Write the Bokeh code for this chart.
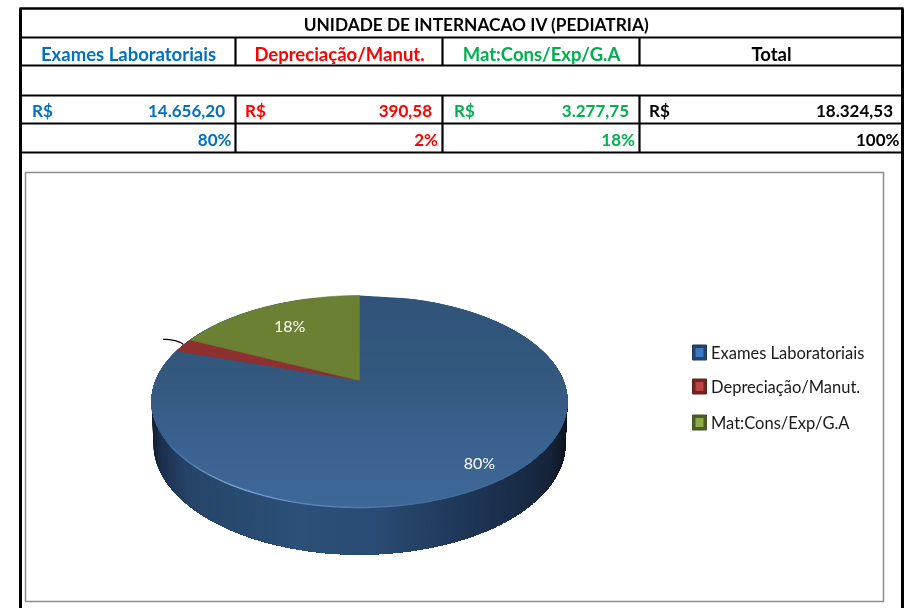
import numpy as np
from bokeh.plotting import figure
from bokeh.models import Range1d
from bokeh.core.properties import value
from bokeh.embed import file_html
from bokeh.resources import INLINE

# ---- data ----
title = "UNIDADE DE INTERNACAO IV (PEDIATRIA)"
categories = ["Exames Laboratoriais", "Depreciação/Manut.", "Mat:Cons/Exp/G.A"]
header_labels = ["Exames Laboratoriais", "Depreciação/Manut.", "Mat:Cons/Exp/G.A", "Total"]
amounts = [14656.20, 390.58, 3277.75]
amount_labels = ["14.656,20", "390,58", "3.277,75", "18.324,53"]
percent_labels = ["80%", "2%", "18%", "100%"]
pie_labels = ["80%", None, "18%"]

# ---- style / layout ----
W, H = 915, 608
FONT = "Lato"
text_colors = ["#0070C0", "#FF0000", "#00B050", "#000000"]
h_lines = [37, 65, 95, 123, 152]
v_spans = [(235, 37, 65), (442, 37, 65), (639, 37, 65), (235, 95, 152), (442, 95, 152), (639, 95, 152)]
col_centers = [128, 339, 541, 771]
rs_x = [31.5, 244.5, 453.5, 648.5]
amount_right = [224.5, 431.5, 628.5, 892.5]
pct_right = [231, 437.5, 634.5, 899]

p = figure(width=W, height=H, x_range=Range1d(0, W), y_range=Range1d(H, 0),
           output_backend="svg", toolbar_location=None, min_border=0,
           outline_line_color=None, background_fill_color="white")
p.axis.visible = False
p.grid.visible = False
p.styles = {"position": "fixed", "left": "0", "top": "0"}


def txt(xs, ys, labels, colors, size, align="center", style="bold"):
    p.text(xs, ys, text=labels, text_color=colors, text_font=value(FONT),
           text_font_size=size, text_font_style=style, text_align=align, text_baseline="middle")


# ---- table ----
BLK = "#000000"
p.segment([20, 902], [8, 8], [20, 902], [608, 608], line_color=BLK, line_width=3)
p.segment([19], [8], [903], [8], line_color=BLK, line_width=2.5)
p.segment([20] * 5, h_lines, [902] * 5, h_lines, line_color=BLK, line_width=2.2)
p.segment([s[0] for s in v_spans], [s[1] for s in v_spans],
          [s[0] for s in v_spans], [s[2] for s in v_spans], line_color=BLK, line_width=2.2)
txt([476], [24], [title], [BLK], "17.3px")
txt(col_centers, [53] * 4, header_labels, text_colors, "18.5px")
txt(rs_x, [110] * 4, ["R$"] * 4, text_colors, "17px", align="left")
txt(amount_right, [110] * 4, amount_labels, text_colors, "17px", align="right")
txt(pct_right, [139] * 4, percent_labels, text_colors, "17px", align="right")

# ---- chart frame ----
p.quad(left=[25], right=[883], top=[172], bottom=[601], fill_color="white",
       line_color="#8C8C8C", line_width=1.5)

# ---- 3D pie ----
CX, CY, RX, RY = 359, 401, 208, 106
APEX_Y = 380
BCY, BRX, BRY = 443, 206, 111
c = (APEX_Y - CY) / RY
d = np.sqrt(1 - c * c)


def hex2rgb(h):
    return np.array([int(h[i:i + 2], 16) for i in (1, 3, 5)], float)


def ramp(t, stops):
    pos = [s[0] for s in stops]
    cols = np.array([hex2rgb(s[1]) for s in stops])
    rgb = [np.interp(t, pos, cols[:, i]) for i in range(3)]
    return "#%02x%02x%02x" % tuple(int(round(v)) for v in rgb)


def rim_point(frac):
    th = 2 * np.pi * np.asarray(frac)
    u, v = np.sin(th), -np.cos(th)
    den = 1 + c * v
    return CX + RX * d * u / den, CY + RY * (v + c) / den


# side wall: every strip reaches on to the far end, later strips paint over it, so no seams show
side_stops = [(151, "#141f30"), (160, "#1c3050"), (185, "#264468"), (300, "#2c5078"),
              (380, "#2a4a72"), (440, "#213c5e"), (510, "#1a2e4a"), (550, "#16243a"), (567, "#0e1520")]
phi = np.linspace(np.pi, 0, 161)
sx, sy, sc = [], [], []
for a, b in zip(phi[:-1], phi[1:]):
    arc = phi[phi <= a + 1e-9]
    sx.append(np.r_[CX + RX * np.cos(arc), CX + BRX * np.cos(arc[::-1])].tolist())
    sy.append(np.r_[CY + RY * np.sin(arc), BCY + BRY * np.sin(arc[::-1])].tolist())
    sc.append(ramp(CX + RX * np.cos((a + b) / 2), side_stops))
p.patches(sx, sy, fill_color=sc, line_color=None)

# top face, blue gradient, painted the same way from top to bottom
top_stops = [(295, "#2f5379"), (380, "#34597f"), (440, "#3a6290"), (507, "#3e6898")]
edges = np.linspace(CY - RY, CY + RY, 61)
bx, by, bc = [], [], []
for y0, y1 in zip(edges[:-1], edges[1:]):
    ys = np.linspace(y0, CY + RY, 80)
    hw = RX * np.sqrt(np.clip(1 - ((ys - CY) / RY) ** 2, 0, 1))
    bx.append(np.r_[CX - hw, (CX + hw)[::-1]].tolist())
    by.append(np.r_[ys, ys[::-1]].tolist())
    bc.append(ramp((y0 + y1) / 2, top_stops))
p.patches(bx, by, fill_color=bc, line_color=None)

# small slices, running clockwise from twelve o'clock
fractions = np.array(amounts) / sum(amounts)
ends = np.cumsum(fractions)
starts = ends - fractions
slice_colors = ["#3A6290", "#8E2F30", "#6C8033"]
for i in (1, 2):
    fr = np.linspace(starts[i], ends[i], 40)
    rx_, ry_ = rim_point(fr)
    p.patch(np.r_[CX, rx_], np.r_[APEX_Y, ry_], fill_color=slice_colors[i],
            line_color=slice_colors[i], line_width=0.5)

# rim highlight along the front edge
rim_stops = [(0.2, "#3e6898"), (0.4, "#44709f"), (0.58, "#5b8ac0"), (0.70, "#7fa9d8"),
             (0.8, "#4f7fb5"), (0.88, "#3e6898")]
phi2 = np.linspace(0.6, np.pi - 0.4, 90)
rx0 = [[CX + RX * np.cos(a), CX + RX * np.cos(b)] for a, b in zip(phi2[:-1], phi2[1:])]
ry0 = [[CY + RY * np.sin(a), CY + RY * np.sin(b)] for a, b in zip(phi2[:-1], phi2[1:])]
rc = [ramp(a / np.pi, rim_stops) for a in phi2[:-1]]
p.multi_line(rx0, ry0, line_color=rc, line_width=1.4)

# pie labels, placed on the slice mid-angle
lab_r = [0.84, None, 0.75]
lx, ly, lt = [], [], []
for i, lab in enumerate(pie_labels):
    if lab is None:
        continue
    mx, my = rim_point((starts[i] + ends[i]) / 2)
    lx.append(CX + lab_r[i] * (mx - CX))
    ly.append(APEX_Y + lab_r[i] * (my - APEX_Y))
    lt.append(lab)
txt(lx, ly, lt, ["white"] * len(lt), "16px", style="normal")

# leader line of the 2% slice
mx, my = rim_point((starts[1] + ends[1]) / 2)
p.line([mx, mx - 3, mx - 7, mx - 12, mx - 16, mx - 20],
       [my - 1, my - 3, my - 4.5, my - 5.5, my - 6, my - 6], line_color="#000000", line_width=1.2)

# ---- legend ----
leg_y = [352, 386, 422]
p.rect([699] * 3, leg_y, width=14, height=15, fill_color=["#24436B", "#6E2625", "#4C5C26"],
       line_color=["#1F3A5E", "#5E2020", "#435224"], line_width=1)
p.rect([699] * 3, leg_y, width=8, height=9, fill_color=["#3A78C2", "#BC4543", "#8DAA45"], line_color=None)
txt([710.5] * 3, leg_y, categories, ["#1A1A1A"] * 3, "16.5px", align="left", style="normal")

open("out.html", "w").write(file_html(p, INLINE))
